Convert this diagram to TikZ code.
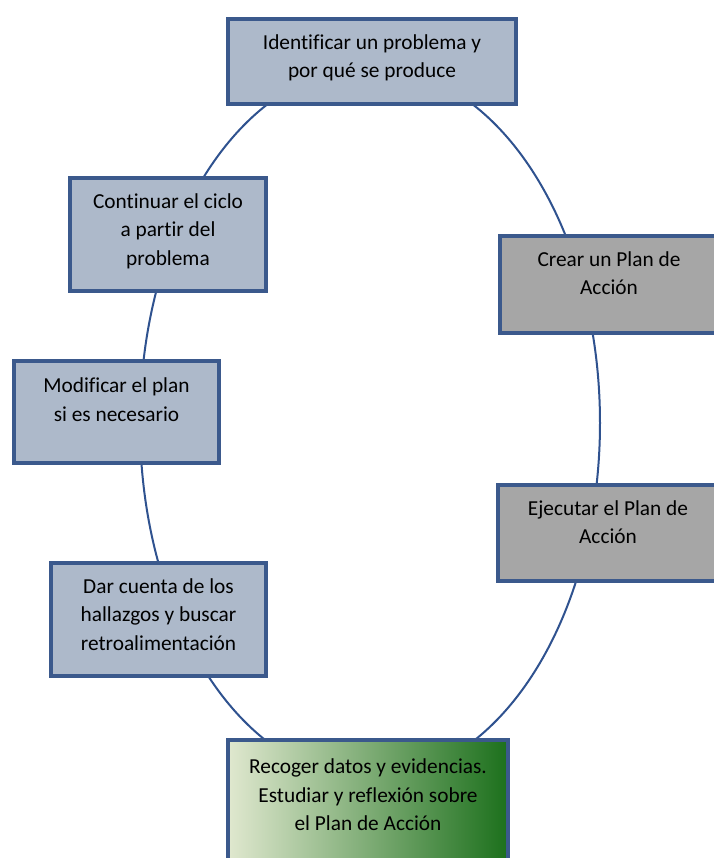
\documentclass[tikz,border=0pt]{standalone}
\usepackage{fontspec}
\setmainfont[Ligatures={NoCommon}]{Carlito}
\usetikzlibrary{positioning, shapes.geometric}
\definecolor{bordeazul}{RGB}{59, 89, 140}
\definecolor{lineaazul}{RGB}{47, 82, 143}
\definecolor{azulgris}{RGB}{173, 185, 202}
\definecolor{grismedio}{RGB}{166, 166, 166}
\definecolor{verdeclaro}{RGB}{224, 232, 207}
\definecolor{verdemedio}{RGB}{163, 192, 112}
\definecolor{verdeoscuro}{RGB}{28, 112, 28}

\begin{document}
\begin{tikzpicture}[x=0.75pt, y=-0.75pt,
      caja/.style={draw=bordeazul, line width=3pt, fill=azulgris},
      cajagris/.style={caja, fill=grismedio},
      cajaverde/.style={caja, left color=verdeclaro, middle color=verdemedio, right color=verdeoscuro},
      texto/.style={align=center, inner sep=0pt, font=\fontsize{16}{21.3}\selectfont}]
    \clip (0,0) rectangle (714,858);
    % ciclo de fondo
    \node[ellipse, draw=lineaazul, line width=1.5pt, inner sep=0pt,
          minimum width=345pt, minimum height=534pt] (ciclo) at (370,423) {};
    % cajas
    \node[caja, minimum width=216pt, minimum height=63.75pt] (identificar) at (372,61.5) {};
    \node[cajagris, minimum width=163.5pt, minimum height=72.75pt] (crear) at (609,284.5) {};
    \node[cajagris, minimum width=165pt, minimum height=72pt] (ejecutar) at (608,533) {};
    \node[cajaverde, minimum width=210pt, minimum height=94.5pt] (recoger) at (368,803) {};
    \node[caja, minimum width=161.25pt, minimum height=84.75pt] (darcuenta) at (158.5,619.5) {};
    \node[caja, minimum width=153.75pt, minimum height=76.5pt] (modificar) at (116.5,412) {};
    \node[caja, minimum width=147pt, minimum height=84.75pt] (continuar) at (168,234.5) {};
    % textos
    \node[texto, below=13pt of identificar.north] (tidentificar) {Identificar un problema y\\ por qué se produce};
    \node[texto, below=13pt of crear.north] (tcrear) {Crear un Plan de\\ Acción};
    \node[texto, below=13pt of ejecutar.north] (tejecutar) {Ejecutar el Plan de\\ Acción};
    \node[texto, below=15.5pt of recoger.north] (trecoger) {Recoger datos y evidencias.\\ Estudiar y reflexión sobre\\ el Plan de Acción};
    \node[texto, below=13pt of darcuenta.north] (tdarcuenta) {Dar cuenta de los\\ hallazgos y buscar\\ retroalimentación};
    \node[texto, below=14pt of modificar.north] (tmodificar) {Modificar el plan\\ si es necesario};
    \node[texto, below=13pt of continuar.north] (tcontinuar) {Continuar el ciclo\\ a partir del\\ problema};
  \end{tikzpicture}
\end{document}
